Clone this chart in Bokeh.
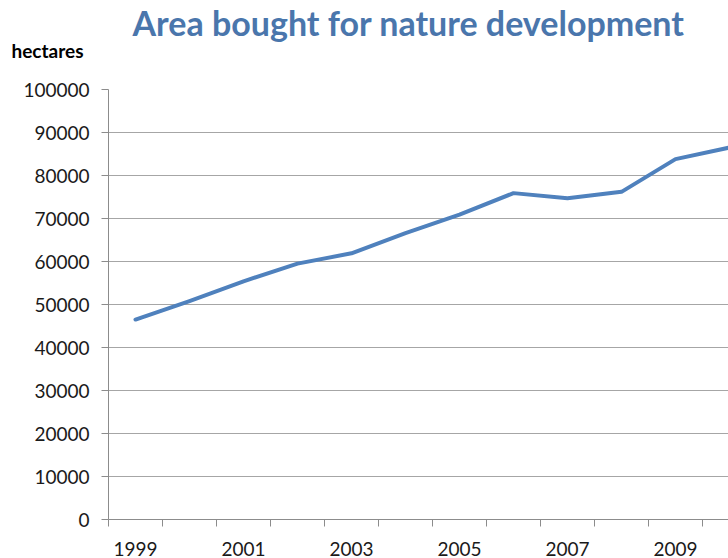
from bokeh.plotting import figure
from bokeh.layouts import column
from bokeh.models import FixedTicker, Range1d, BasicTickFormatter
from bokeh.core.properties import value
from bokeh.embed import file_html
from bokeh.resources import INLINE

# Data
years = [1999, 2000, 2001, 2002, 2003, 2004, 2005, 2006, 2007, 2008, 2009, 2010]
hectares = [46500, 50800, 55400, 59500, 61900, 66600, 70900, 75900, 74700, 76200, 83800, 86500]
label_years = [1999, 2001, 2003, 2005, 2007, 2009]
y_ticks = [0, 10000, 20000, 30000, 40000, 50000, 60000, 70000, 80000, 90000, 100000]

title_text = "Area bought for nature development"
unit_text = "hectares"

FONT = "Lato"
AXIS_GRAY = "#8c8c8c"
W = 728
HEADER_H = 77

# ---- header with the title and the unit caption ----
header = figure(width=W, height=HEADER_H, output_backend="svg", toolbar_location=None,
                x_range=Range1d(0, W), y_range=Range1d(HEADER_H, 0),
                x_axis_type=None, y_axis_type=None,
                min_border_left=0, min_border_right=0, min_border_top=0, min_border_bottom=0)
header.frame_align = False
header.title = None
header.outline_line_color = None
header.grid.visible = False
header.text(x=[132], y=[22], text=[title_text], text_font=value(FONT), text_font_size="34px",
            text_font_style="bold", text_color="#4A76AC", text_baseline="alphabetic",
            text_align="left")
header.text(x=[11], y=[50], text=[unit_text], text_font=value(FONT), text_font_size="19px",
            text_font_style="bold", text_color="black", text_baseline="alphabetic",
            text_align="left")

# ---- main chart ----
FRAME_W = 620
x_start = years[0] - 0.5
x_end = x_start + FRAME_W / 54.0

p = figure(width=W, height=558 - HEADER_H, output_backend="svg", toolbar_location=None,
           x_range=Range1d(x_start, x_end), y_range=Range1d(0, 100000),
           min_border_left=108, min_border_right=0, min_border_top=12,
           min_border_bottom=39)
p.frame_align = False
p.title = None
p.outline_line_color = None
p.background_fill_color = "white"
p.border_fill_color = "white"

p.line(years, hectares, line_color="#4F81BD", line_width=4, line_join="round", line_cap="round")

# x axis
boundaries = [y - 0.5 for y in years] + [years[-1] + 0.5]
p.xaxis.ticker = FixedTicker(ticks=label_years, minor_ticks=boundaries)
p.xaxis.formatter = BasicTickFormatter(use_scientific=False)
p.xaxis.axis_line_color = AXIS_GRAY
p.xaxis.major_tick_line_color = None
p.xaxis.major_tick_out = 0
p.xaxis.major_tick_in = 0
p.xaxis.minor_tick_line_color = AXIS_GRAY
p.xaxis.minor_tick_out = 7
p.xaxis.minor_tick_in = 0
p.xaxis.major_label_standoff = 15
p.xaxis.major_label_text_font = FONT
p.xaxis.major_label_text_font_size = "19px"
p.xaxis.major_label_text_color = "#1a1a1a"

# y axis
p.yaxis.ticker = FixedTicker(ticks=y_ticks, minor_ticks=[])
p.yaxis.formatter = BasicTickFormatter(use_scientific=False)
p.yaxis.axis_line_color = AXIS_GRAY
p.yaxis.major_tick_line_color = AXIS_GRAY
p.yaxis.major_tick_out = 7
p.yaxis.major_tick_in = 0
p.yaxis.minor_tick_line_color = None
p.yaxis.major_label_standoff = 12
p.yaxis.major_label_text_font = FONT
p.yaxis.major_label_text_font_size = "19px"
p.yaxis.major_label_text_color = "#1a1a1a"

p.xgrid.grid_line_color = None
p.ygrid.grid_line_color = "#a6a6a6"
p.ygrid.grid_line_width = 1

layout = column(header, p, spacing=0)
open("out.html", "w").write(file_html(layout, INLINE))
